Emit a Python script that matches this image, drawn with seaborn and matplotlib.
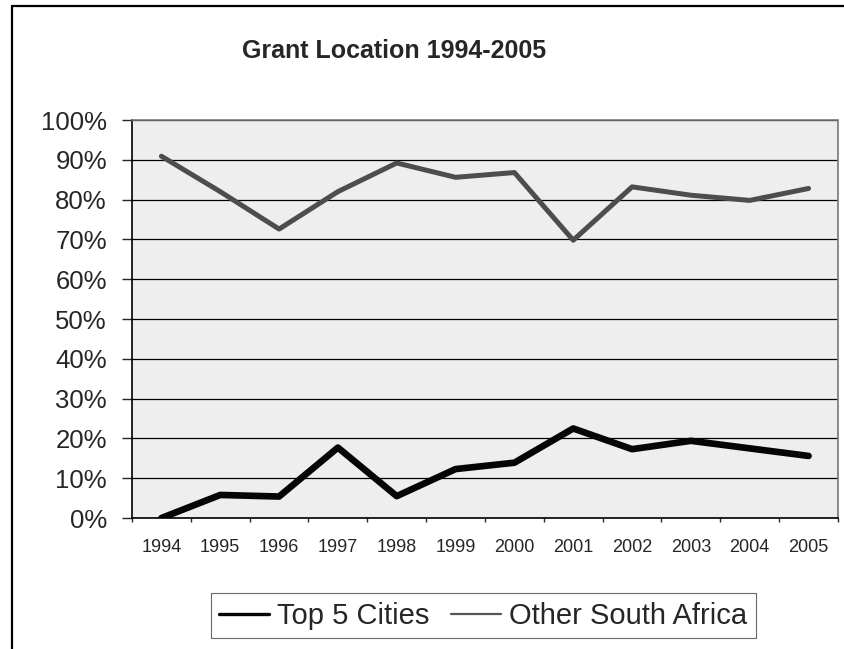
import pandas as pd
import numpy as np
import seaborn as sns
import matplotlib.pyplot as plt
from matplotlib.ticker import PercentFormatter, FixedLocator

years = [1994, 1995, 1996, 1997, 1998, 1999, 2000, 2001, 2002, 2003, 2004, 2005]
top5_cities = [0.0, 5.8, 5.4, 17.7, 5.5, 12.3, 13.9, 22.5, 17.3, 19.4, 17.5, 15.6]
other_sa = [90.9, 82.0, 72.6, 82.0, 89.2, 85.6, 86.8, 69.8, 83.2, 81.1, 79.8, 82.8]
series_names = ["Top 5 Cities", "Other South Africa"]

# long format for seaborn
df = pd.DataFrame({
    "pos": list(range(len(years))) * 2,
    "Share": top5_cities + other_sa,
    "Series": [series_names[0]] * len(years) + [series_names[1]] * len(years),
})

sns.set_style("white")
plt.rcParams["font.family"] = ["Liberation Sans", "DejaVu Sans"]

fig = plt.figure(figsize=(8.45, 6.49), dpi=100)
ax = fig.add_axes([0.1562, 0.2018, 0.8355, 0.6133])
ax.set_facecolor("#eeeeee")

sns.lineplot(data=df, x="pos", y="Share", hue="Series",
             palette={"Top 5 Cities": "#050505", "Other South Africa": "#4d4d4d"},
             sort=False, legend=False, ax=ax)
ax.lines[0].set_linewidth(4.8)
ax.lines[1].set_linewidth(3.6)

ax.set_xlim(-0.5, len(years) - 0.5)
ax.set_ylim(0, 100)
ax.yaxis.set_major_locator(FixedLocator(np.arange(0, 101, 10)))
ax.yaxis.set_major_formatter(PercentFormatter(decimals=0))
ax.set_xticks(range(len(years)))
ax.set_xticklabels([str(y) for y in years], fontsize=13)
ax.tick_params(axis="x", length=0, pad=15)
ax.tick_params(axis="y", labelsize=18.5, length=7, width=1, direction="out", left=True, pad=11)
ax.set_xticks(np.arange(-0.5, len(years), 1), minor=True)
ax.tick_params(axis="x", which="minor", length=3, width=1, bottom=True, direction="out")
ax.grid(axis="y", color="black", linewidth=0.9)
ax.set_axisbelow(True)
ax.set_xlabel("")
ax.set_ylabel("")
for side in ["top", "right"]:
    ax.spines[side].set_color("#777777")
    ax.spines[side].set_linestyle((0, (1, 1)))
    ax.spines[side].set_linewidth(1.2)
for side in ["left", "bottom"]:
    ax.spines[side].set_color("black")
    ax.spines[side].set_linewidth(1.2)

fig.text(0.466, 0.921, "Grant Location 1994-2005", ha="center", va="center",
         fontsize=18, fontweight="bold")

handles = [plt.Line2D([], [], color="#050505", linewidth=2.4),
           plt.Line2D([], [], color="#555555", linewidth=1.6)]
leg = fig.legend(handles, series_names, loc="upper center", ncol=2,
                 bbox_to_anchor=(0.572, 0.0863), fontsize=21, frameon=True,
                 fancybox=False, handlelength=1.7, handletextpad=0.28,
                 columnspacing=0.75, borderpad=0.3, borderaxespad=0)
leg.get_frame().set_edgecolor("#444444")
leg.get_frame().set_linewidth(0.8)

# outer border (left and top edges of the scanned frame)
fig.add_artist(plt.Line2D([0.0142, 0.0142], [0.0, 0.991], transform=fig.transFigure,
                          color="black", linewidth=1.6))
fig.add_artist(plt.Line2D([0.0142, 1.0], [0.991, 0.991], transform=fig.transFigure,
                          color="black", linewidth=1.6))

plt.savefig("out.png", dpi=100)
